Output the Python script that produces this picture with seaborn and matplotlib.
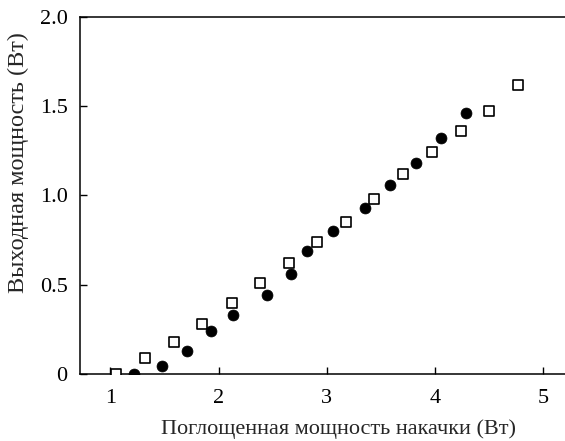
import matplotlib
matplotlib.use("Agg")
import matplotlib.pyplot as plt
import seaborn as sns
import pandas as pd

sq_x = [1.05, 1.32, 1.59, 1.85, 2.12, 2.38, 2.65, 2.91, 3.18, 3.44, 3.70, 3.97, 4.24, 4.50, 4.77]
sq_y = [0.00, 0.09, 0.18, 0.28, 0.40, 0.51, 0.62, 0.74, 0.85, 0.98, 1.12, 1.245, 1.36, 1.475, 1.62]
ci_x = [1.22, 1.48, 1.71, 1.93, 2.13, 2.45, 2.67, 2.82, 3.06, 3.35, 3.58, 3.82, 4.05, 4.29]
ci_y = [0.00, 0.045, 0.13, 0.24, 0.33, 0.44, 0.56, 0.69, 0.80, 0.93, 1.06, 1.18, 1.32, 1.46]

x_ticks = [1, 2, 3, 4, 5]
x_labels = ["1", "2", "3", "4", "5"]
y_ticks = [0, 0.5, 1.0, 1.5, 2.0]
y_labels = ["0", "0.5", "1.0", "1.5", "2.0"]

xlabel = "Поглощенная мощность накачки (Вт)"
ylabel = "Выходная мощность (Вт)"

sns.set_style("ticks")
plt.rcParams['font.family'] = ['Liberation Serif', 'DejaVu Serif']

fig = plt.figure(figsize=(5.65, 4.41), dpi=100)
ax = fig.add_axes([0.1416, 0.152, 0.8584, 0.8095])

df_sq = pd.DataFrame({"x": sq_x, "y": sq_y})
df_ci = pd.DataFrame({"x": ci_x, "y": ci_y})

sns.scatterplot(data=df_sq, x="x", y="y", ax=ax, marker="s", s=48,
                facecolor="white", edgecolor="black", linewidth=1.2, zorder=3)
sns.scatterplot(data=df_ci, x="x", y="y", ax=ax, marker="o", s=62,
                color="black", edgecolor="black", linewidth=0.5, zorder=3)

ax.set_xlim(0.72, 5.2)
ax.set_ylim(0, 2.0)
ax.set_xticks(x_ticks)
ax.set_xticklabels(x_labels)
ax.set_yticks(y_ticks)
ax.set_yticklabels(y_labels)
ax.tick_params(direction="in", length=5, width=1, labelsize=16, colors="black")
ax.tick_params(axis="x", pad=11)
ax.tick_params(axis="y", pad=9)

for side in ["left", "bottom", "top"]:
    ax.spines[side].set_linewidth(1.1)
    ax.spines[side].set_color("black")
ax.spines["right"].set_visible(False)

ax.set_xlabel(xlabel, fontsize=16)
ax.set_ylabel(ylabel, fontsize=17.5)
ax.xaxis.set_label_coords(0.534, -0.127)
ax.yaxis.set_label_coords(-0.105, 0.591)

fig.savefig("out.png", dpi=100)
